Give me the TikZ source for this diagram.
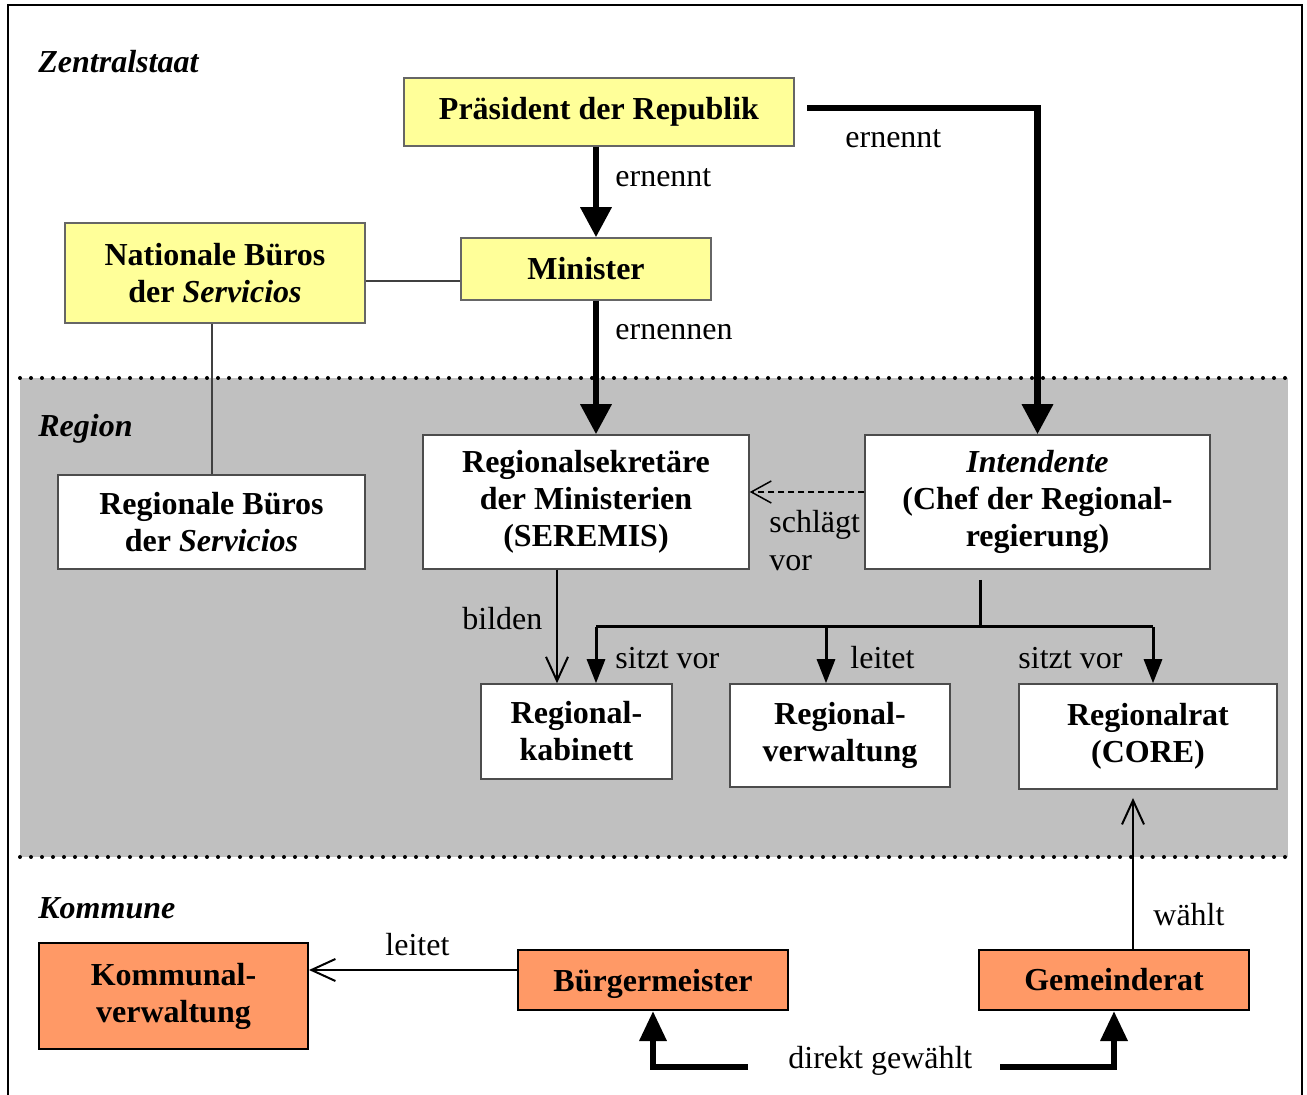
\documentclass[tikz,border=0pt]{standalone}
\usepackage{fontspec}
\setmainfont{Liberation Serif}
\usetikzlibrary{arrows.meta}
\definecolor{boxyellow}{HTML}{FFFF99}
\definecolor{boxorange}{HTML}{FF9966}
\definecolor{regiongray}{HTML}{C0C0C0}
\tikzset{
  sz/.style 2 args={minimum width=#1,minimum height=#2},
  basebox/.style={align=center, inner sep=0pt, font=\fontsize{16}{18.5}\selectfont\bfseries},
  ybox/.style={basebox, draw=black!60, fill=boxyellow, line width=0.75pt},
  wbox/.style={basebox, draw=black!70, fill=white, line width=0.75pt},
  obox/.style={basebox, draw=black, fill=boxorange, line width=1pt},
  lbl/.style={inner sep=0pt, anchor=west, align=left, font=\fontsize{16}{19}\selectfont},
  seclbl/.style={inner sep=0pt, anchor=west, font=\fontsize{16}{19}\selectfont\bfseries\itshape},
  bigarrow/.style={line width=3.2pt, -{Triangle[length=15pt,width=15pt]}},
  dgarrow/.style={line width=3.2pt, -{Triangle[length=15pt,width=13pt]}},
  medarrow/.style={line width=1.5pt, -{Triangle[length=12pt,width=9pt]}},
  openarrow/.style={line width=1pt, -{Straight Barb[length=12pt,width=11pt,line width=1pt]}},
  dasharrow/.style={line width=0.75pt, dash pattern=on 3pt off 2pt, -{Straight Barb[length=10pt,width=11pt,line width=0.75pt]}},
  thinline/.style={line width=0.7pt, draw=black!75},
  dotline/.style={line width=2pt, dash pattern=on 0pt off 5.5pt, line cap=round},
}
\begin{document}
\begin{tikzpicture}[x=0.5pt,y=-0.5pt]
\useasboundingbox (0,0) rectangle (1307,1095);
% region band
\fill[regiongray] (20,378) rectangle (1288,857);
\draw[dotline] (20,378) -- (1288,378);
\draw[dotline] (20,857) -- (1288,857);
% frame
\draw[line width=1.25pt] (8,1095) -- (8,5) -- (1302,5) -- (1302,1095);

% section labels
\node[seclbl] (zs) at (38,62) {Zentralstaat};
\node[seclbl] (rg) at (38,429) {Region};
\node[seclbl] (km) at (38,908) {Kommune};

% boxes
\node[ybox, sz={195pt}{34pt}] (pres) at (599,112) {Präsident der Republik};
\node[ybox, sz={125pt}{31pt}] (min) at (586,269) {Minister};
\node[ybox, sz={150pt}{50pt}] (nat) at (215,273) {Nationale Büros\\der \textit{Servicios}};
\node[wbox, sz={153.5pt}{47pt}] (rb) at (211.5,522) {Regionale Büros\\der \textit{Servicios}};
\node[wbox, sz={163pt}{67pt}] (rs) at (586,502) {Regionalsekretäre\\der Ministerien\\(SEREMIS)};
\node[wbox, sz={172.5pt}{67pt}] (int) at (1037.5,502) {\textit{Intendente}\\(Chef der Regional-\\regierung)};
\node[wbox, sz={95.5pt}{47.5pt}] (rk) at (576.5,731.5) {Regional-\\kabinett};
\node[wbox, sz={110pt}{51.5pt}] (rv) at (840,735.5) {Regional-\\verwaltung};
\node[wbox, sz={129pt}{52.5pt}] (rr) at (1148,736.5) {Regionalrat\\(CORE)};
\node[obox, sz={134.5pt}{53pt}] (kv) at (173.5,996) {Kommunal-\\verwaltung};
\node[obox, sz={135pt}{30pt}, text depth=0pt] (bm) at (653,980) {Bürgermeister};
\node[obox, sz={135pt}{30pt}] (gr) at (1114,980) {Gemeinderat};

% helper coordinates
\coordinate (c1) at (596,0);
\coordinate (c2) at (212,0);
\coordinate (c3) at (557,0);
\coordinate (c4) at (1133,0);
\coordinate (h1) at (0,281);
\coordinate (h2) at (0,492);
\coordinate (h3) at (0,970);
\coordinate (pr) at (807,108);
\coordinate (t0) at (980,580);
\coordinate (j)  at (980,627);
\coordinate (jl) at (596,627);
\coordinate (jm) at (826,627);
\coordinate (jr) at (1153,627);
\coordinate (rrt) at (1133,798);
\coordinate (dg1) at (748,1067);
\coordinate (dg2) at (1000,1067);

% connectors
\draw[bigarrow] (pres.south -| c1) -- (min.north -| c1);
\draw[bigarrow] (min.south -| c1) -- (rs.north -| c1);
\draw[bigarrow] (pr) -| (int.north);
\draw[thinline] (nat.east |- h1) -- (min.west |- h1);
\draw[thinline] (nat.south -| c2) -- (rb.north -| c2);
\draw[dasharrow] (int.west |- h2) -- (rs.east |- h2);
\draw[openarrow] (rs.south -| c3) -- (rk.north -| c3);
\draw[line width=1.5pt] (t0) -- (j);
\draw[line width=1.5pt] (jl) -- (jr);
\draw[medarrow] (jl) -- (rk.north -| jl);
\draw[medarrow] (jm) -- (rv.north -| jm);
\draw[medarrow] (jr) -- (rr.north -| jr);
\draw[openarrow] (gr.north -| c4) -- (rrt);
\draw[openarrow] (bm.west |- h3) -- (kv.east |- h3);
\draw[dgarrow] (dg1) -| (bm.south);
\draw[dgarrow] (dg2) -| (gr.south);

% labels
\node[lbl] (e1) at (615,178) {ernennt};
\node[lbl] (e2) at (845,139) {ernennt};
\node[lbl] (e3) at (615,332) {ernennen};
\node[lbl] (sv) at (769,541) {schlägt\\vor};
\node[lbl] (bi) at (462,619) {bilden};
\node[lbl] (s1) at (615,658) {sitzt vor};
\node[lbl] (le) at (850,658) {leitet};
\node[lbl] (s2) at (1018,658) {sitzt vor};
\node[lbl] (wa) at (1153,915) {wählt};
\node[lbl] (l2) at (385,945) {leitet};
\node[lbl] (dg) at (788,1061) {direkt gewählt};
\end{tikzpicture}
\end{document}
